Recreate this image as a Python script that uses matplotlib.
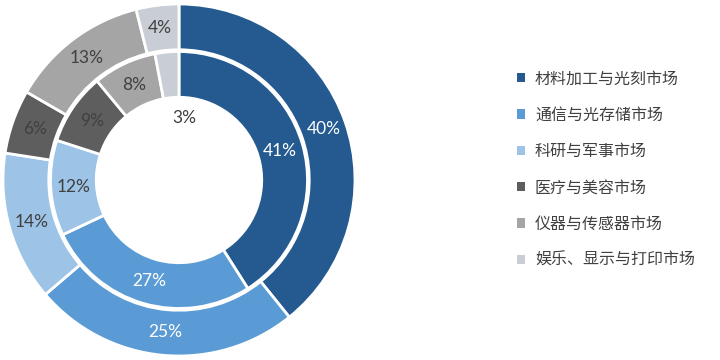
import matplotlib.pyplot as plt
from matplotlib.patches import Patch

plt.rcParams['font.family'] = ['Noto Sans CJK SC', 'DejaVu Sans']

categories = ['材料加工与光刻市场', '通信与光存储市场', '科研与军事市场',
              '医疗与美容市场', '仪器与传感器市场', '娱乐、显示与打印市场']
outer_vals = [40, 25, 14, 6, 13, 4]
inner_vals = [41, 27, 12, 9, 8, 3]
colors = ['#245A8F', '#5B9BD5', '#9DC3E6', '#5E5E5E', '#A5A5A5', '#C8CDD6']
label_colors = ['white', 'white', '#404040', '#404040', '#404040', '#404040']

fig = plt.figure(figsize=(7.2, 3.6), dpi=100)
ax = fig.add_axes([3 / 720, 4 / 360, 352 / 720, 352 / 360])

wedge_kw = dict(width=0.26, edgecolor='white', linewidth=2)

_, outer_txt = ax.pie(outer_vals, radius=1.0, colors=colors, startangle=90,
                      counterclock=False, wedgeprops=wedge_kw,
                      labels=[f'{v}%' for v in outer_vals], labeldistance=0.87)
_, inner_txt = ax.pie(inner_vals, radius=0.73, colors=colors, startangle=90,
                      counterclock=False, wedgeprops=wedge_kw,
                      labels=[f'{v}%' for v in inner_vals], labeldistance=0.82)

for txts in (outer_txt, inner_txt):
    for t, c in zip(txts, label_colors):
        t.set_color(c)
        t.set_fontsize(12.5)
        t.set_family(['Lato', 'DejaVu Sans'])
        t.set_ha('center')
        t.set_va('center')

# the 3% label of the inner ring sits inside the hole
inner_txt[-1].set_position((0.03, 0.35))

ax.set_xlim(-1, 1)
ax.set_ylim(-1, 1)
ax.set_aspect('equal')

handles = [Patch(facecolor=c, edgecolor='none') for c in colors]
fig.legend(handles, categories, loc='upper left', bbox_to_anchor=(503 / 720, 1 - 56 / 360),
           frameon=False, fontsize=11.5, handlelength=0.5, handleheight=0.5,
           handletextpad=0.6, labelspacing=1.21, labelcolor='#404040')

fig.savefig('out.png', dpi=100)
